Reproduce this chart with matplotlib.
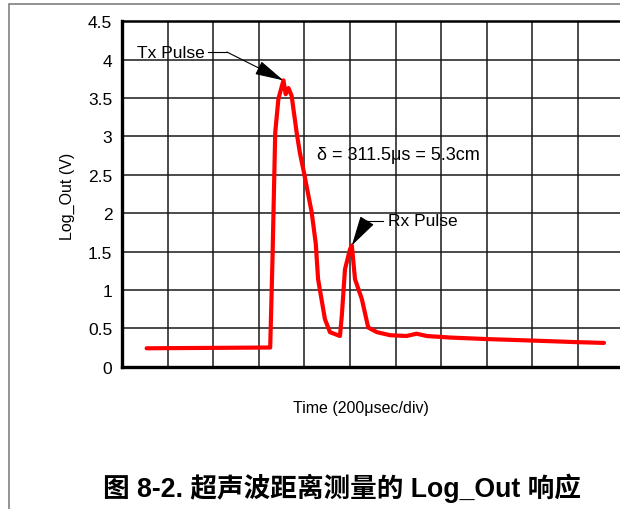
import matplotlib
matplotlib.use('Agg')
import matplotlib.pyplot as plt
import matplotlib.patches as patches

plt.rcParams['font.family'] = ['Liberation Sans', 'Noto Sans CJK SC', 'DejaVu Sans']

# time in divisions (200 usec/div), Log_Out in volts
t_div = [0.54, 3.25, 3.30, 3.36, 3.43, 3.54, 3.59, 3.65, 3.72, 3.83, 3.90, 3.99,
         4.16, 4.25, 4.30, 4.45, 4.56, 4.78, 4.82, 4.89, 5.00, 5.04, 5.11, 5.26,
         5.40, 5.59, 5.88, 6.24, 6.46, 6.68, 7.19, 8.00, 9.02, 9.97, 10.57]
log_out = [0.24, 0.25, 1.40, 3.05, 3.49, 3.73, 3.55, 3.63, 3.53, 3.05, 2.79, 2.53,
           2.01, 1.60, 1.14, 0.62, 0.45, 0.40, 0.66, 1.27, 1.53, 1.58, 1.14, 0.88,
           0.51, 0.45, 0.41, 0.40, 0.43, 0.40, 0.38, 0.36, 0.34, 0.32, 0.31]
y_ticks = [0, 0.5, 1, 1.5, 2, 2.5, 3, 3.5, 4, 4.5]
y_labels = ['0', '0.5', '1', '1.5', '2', '2.5', '3', '3.5', '4', '4.5']

fig = plt.figure(figsize=(6.2, 5.1), dpi=100, facecolor='white')

# grey page frame
fig.patches.append(patches.Rectangle((8.5 / 620, -0.1), 1.2, 0.1 + (510 - 5) / 510,
                                     transform=fig.transFigure, fill=False,
                                     edgecolor='#808080', linewidth=1.2))

ax = fig.add_axes([122 / 620, 142.3 / 510, 518 / 620, 345.4 / 510])
ax.set_xlim(0, 518 / 45.6)
ax.set_ylim(0, 4.5)

ax.set_xticks(range(0, 12))
ax.set_yticks(y_ticks)
ax.set_yticklabels(y_labels, fontsize=12.5)
ax.tick_params(axis='x', length=0, labelbottom=False)
ax.tick_params(axis='y', length=0, pad=7)
ax.grid(True, color='#1a1a1a', linewidth=1.1)
ax.set_axisbelow(True)
for side in ['left', 'bottom']:
    ax.spines[side].set_linewidth(2.4)
ax.spines['top'].set_linewidth(1.8)

ax.plot(t_div, log_out, color='#ff0000', linewidth=3.0, solid_capstyle='round',
        solid_joinstyle='round', zorder=3)

# annotations
ax.text(1.82, 4.10, 'Tx Pulse', fontsize=12.5, ha='right', va='center')
ax.plot([1.88, 2.30], [4.10, 4.10], color='black', linewidth=0.8)
ax.annotate('', xy=(3.54, 3.73), xytext=(2.30, 4.10),
            arrowprops=dict(arrowstyle='-|>,head_length=1.8,head_width=0.45',
                            color='black', lw=0.8, mutation_scale=10,
                            shrinkA=0, shrinkB=0), zorder=4)

ax.text(5.84, 1.90, 'Rx Pulse', fontsize=12.5, ha='left', va='center')
ax.plot([5.72, 5.37], [1.90, 1.90], color='black', linewidth=0.8)
ax.annotate('', xy=(5.04, 1.58), xytext=(5.37, 1.90),
            arrowprops=dict(arrowstyle='-|>,head_length=1.9,head_width=0.5',
                            color='black', lw=0.8, mutation_scale=10,
                            shrinkA=0, shrinkB=0), zorder=4)

ax.text(4.27, 2.76, 'δ = 311.5μs = 5.3cm', fontsize=13, ha='left', va='center')

fig.text(67 / 620, 1 - 196 / 510, 'Log_Out (V)', rotation=90, fontsize=11.5,
         ha='center', va='center')
fig.text(361 / 620, 1 - 408 / 510, 'Time (200μsec/div)', fontsize=11.5,
         ha='center', va='center')
fig.text(342 / 620, 1 - 488 / 510, '图 8-2. 超声波距离测量的 Log_Out 响应',
         fontsize=19.2, fontweight='bold', ha='center', va='center')

fig.savefig('out.png', dpi=100, facecolor='white')
